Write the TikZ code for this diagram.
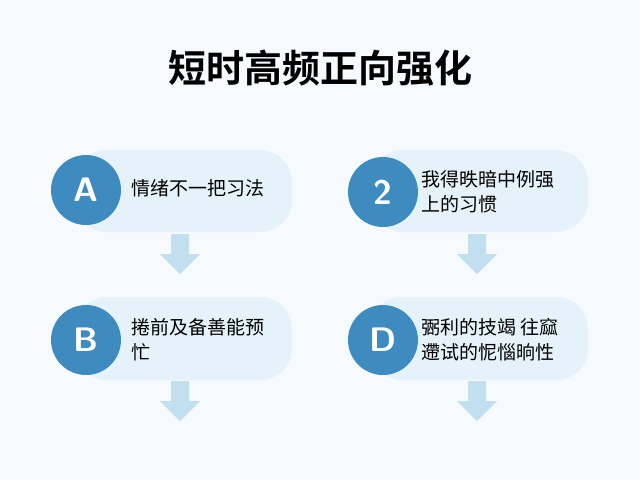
\documentclass[tikz,border=0pt]{standalone}
\usepackage{fontspec}
\newfontfamily\cjk{Noto Sans CJK SC}
\newfontfamily\cjkb{Noto Sans CJK SC Bold}
\definecolor{circ}{HTML}{3E8CBF}
\definecolor{pill}{HTML}{E6F2FA}
\definecolor{arr}{HTML}{C2DFEF}
\definecolor{bg}{HTML}{F6FAFD}
\tikzset{
 pillst/.style={fill=pill,rounded corners=32pt},
 circst/.style={circle,fill=circ,minimum size=70pt,inner sep=0pt,text=white,font=\sffamily\bfseries\fontsize{34}{34}\selectfont},
 txt/.style={anchor=west,align=left,font=\cjk\fontsize{19}{25}\selectfont,text=black},
 arrst/.style={fill=arr,draw=none}
}
\begin{document}
\begin{tikzpicture}[x=1pt,y=-1pt]
\useasboundingbox (0,0) rectangle (640,480);
\fill[bg] (0,0) rectangle (640,480);
\node[font=\cjkb\fontsize{38}{38}\selectfont] (title) at (320,68) {短时高频正向强化};
\fill[pillst] (75,150) rectangle (292,232);
\fill[pillst] (370,150) rectangle (588,232);
\fill[pillst] (75,297) rectangle (292,380);
\fill[pillst] (370,297) rectangle (588,380);
\node[circst] (A) at (86,190) {A};
\node[circst] (N2) at (383,192) {2};
\node[circst] (B) at (86,340) {B};
\node[circst] (D) at (383,340) {D};
\node[txt] (tA) at (128,188) {情绪不一把习法};
\node[txt] (t2) at (418,192) {我得昳暗中例强\\上的习惯};
\node[txt] (tB) at (128,340) {捲前及备善能预\\忙};
\node[txt] (tD) at (418,340) {弻利的技竭 往窳\\遰试的怩惱晌性};
\foreach \x/\y/\n in {180/234/a1,477/234/a2,180/381/a3,477/381/a4}{
 \fill[arrst] (\x-9,\y) -- (\x+9,\y) -- (\x+9,\y+20) -- (\x+20,\y+20) -- (\x,\y+40) -- (\x-20,\y+20) -- (\x-9,\y+20) -- cycle;
}
\end{tikzpicture}
\end{document}
